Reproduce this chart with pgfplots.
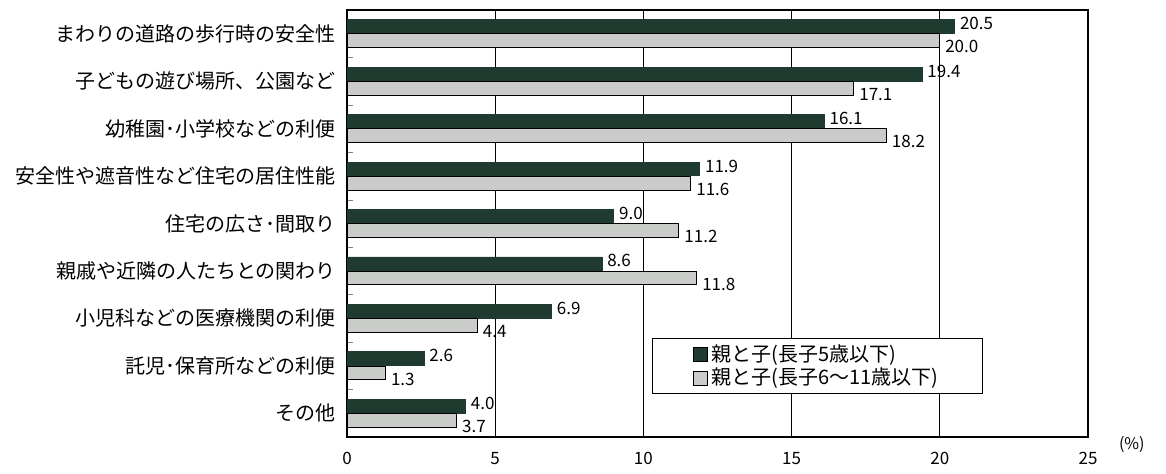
\documentclass[border=0pt]{standalone}
\usepackage{fontspec}
\setmainfont{Noto Sans CJK JP}
\usepackage{pgfplots}
\pgfplotsset{compat=1.18}
\definecolor{darkbar}{HTML}{1F3A2E}
\definecolor{graybar}{HTML}{C9CCC8}
\begin{document}
\begin{tikzpicture}
\path[use as bounding box] (0,0) rectangle (583pt,236.5pt);
\begin{axis}[
  at={(173.5pt,18pt)}, anchor=south west,
  scale only axis,
  width=370.5pt, height=213.5pt,
  clip=false,
  xbar,
  xmin=0, xmax=25,
  ymin=-0.5, ymax=8.5,
  y dir=reverse,
  bar width=0.29,
  xtick={0,5,10,15,20,25},
  ytick={0,...,8},
  yticklabels={まわりの道路の歩行時の安全性,子どもの遊び場所、公園など,幼稚園･小学校などの利便,安全性や遮音性など住宅の居住性能,住宅の広さ･間取り,親戚や近隣の人たちとの関わり,小児科などの医療機関の利便,託児･保育所などの利便,その他},
  minor ytick={0.5,1.5,...,7.5},
  minor tick length=3pt,
  tick align=inside,
  tick pos=left,
  major tick length=0pt,
  xmajorgrids,
  major grid style={black, line width=0.5pt},
  axis line style={black, line width=0.8pt},
  yticklabel style={font=\fontsize{10pt}{12pt}\selectfont, xshift=-2pt},
  xticklabel style={font=\fontsize{8.5pt}{10pt}\selectfont, yshift=-4pt},
  /pgf/number format/assume math mode=true,
  nodes near coords={\pgfmathprintnumber[fixed,fixed zerofill,precision=1]{\pgfplotspointmeta}},
  nodes near coords style={font=\fontsize{8.5pt}{9pt}\selectfont, inner sep=1.5pt, xshift=1pt},
  legend style={at={(axis cs:10.3,6.41)}, anchor=north west, draw=black, line width=0.5pt,
    inner xsep=20pt, inner ysep=1pt, font=\fontsize{10pt}{11pt}\selectfont,
    legend cell align=left, row sep=-2pt},
  legend image code/.code={\draw[#1, draw=black, line width=0.4pt] (0pt,-3.5pt) rectangle (7pt,3.5pt);},
]
\addplot[fill=darkbar, draw=darkbar, bar shift=-0.15,
  every node near coord/.append style={yshift=1.5pt}] coordinates {
  (20.5,0) (19.4,1) (16.1,2) (11.9,3) (9.0,4) (8.6,5) (6.9,6) (2.6,7) (4.0,8)};
\addplot[fill=graybar, draw=black, line width=0.5pt, bar shift=0.15,
  every node near coord/.append style={yshift=-3pt}] coordinates {
  (20.0,0) (17.1,1) (18.2,2) (11.6,3) (11.2,4) (11.8,5) (4.4,6) (1.3,7) (3.7,8)};
\legend{親と子(長子5歳以下),親と子(長子6～11歳以下)}
\node[anchor=west, font=\fontsize{8pt}{9pt}\selectfont] at (rel axis cs:1,0) [xshift=12pt, yshift=-4pt] {(\%)};
\end{axis}
\end{tikzpicture}
\end{document}
